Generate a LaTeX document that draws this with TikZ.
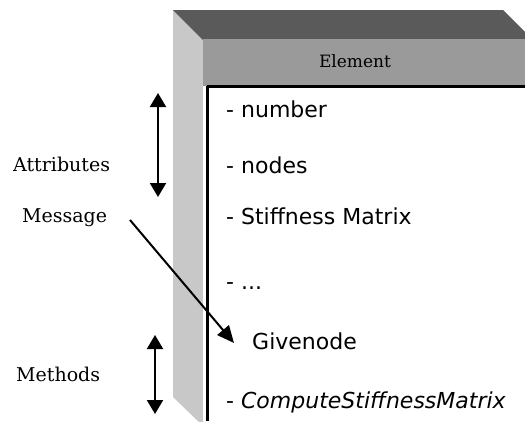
\documentclass[tikz,border=0pt]{standalone}
\usepackage{fontspec}
\setmainfont{DejaVu Serif}
\newfontfamily\itemfont{DejaVu Sans}
\usetikzlibrary{arrows.meta}
\definecolor{topgray}{HTML}{5A5A5A}
\definecolor{headgray}{HTML}{9A9A9A}
\definecolor{sidegray}{HTML}{C8C8C8}
\tikzset{
  label/.style={font=\fontsize{19}{22}\selectfont, inner sep=0pt, anchor=base west},
  member/.style={font=\itemfont\fontsize{22}{26}\selectfont, inner sep=0pt, anchor=base west},
  twoway/.style={line width=2pt, {Triangle[length=14pt,width=16pt]}-{Triangle[length=14pt,width=16pt]}},
  oneway/.style={line width=2pt, -{Triangle[length=17pt,width=15pt]}}
}
\begin{document}
\begin{tikzpicture}[x=1pt,y=-1pt]
\useasboundingbox (0,0) rectangle (525,421);
\clip (0,0) rectangle (525,421);
% box: side face, top face, header band and body
\fill[sidegray] (173,10) -- (203,40) -- (203,426) -- (173,397) -- cycle;
\fill[topgray] (173,10) -- (503,10) -- (533,40) -- (203,40) -- cycle;
\fill[headgray] (203,39) rectangle (530,86);
\fill[white] (203,86) rectangle (530,421);
\draw[line width=2.4pt] (207,86.5) -- (530,86.5);
\draw[line width=2.4pt] (207.5,86) -- (207.5,421);
% class name and members
\node[font=\fontsize{17}{20}\selectfont, inner sep=0pt, anchor=base] (title) at (355,67) {Element};
\node[member] (m1) at (226,117) {- number};
\node[member] (m2) at (226,173) {- nodes};
\node[member] (m3) at (226,224) {- Stiffness Matrix};
\node[member] (m4) at (226,289) {- ...};
\node[member] (m5) at (252,349) {Givenode};
\node[member] (m6) at (226,408) {- \textit{ComputeStiffnessMatrix}};
% side labels
\node[label] (attr) at (13,171) {Attributes};
\node[label] (msg) at (22,222) {Message};
\node[label] (meth) at (16,381) {Methods};
% arrows
\coordinate (a1) at (158,93);
\coordinate (a2) at (158,197);
\coordinate (b1) at (155,335);
\coordinate (b2) at (155,414);
\coordinate (c1) at (130,220);
\coordinate (c2) at (234,343);
\draw[twoway] (a1) -- (a2);
\draw[twoway] (b1) -- (b2);
\draw[oneway] (c1) -- (c2);
\end{tikzpicture}
\end{document}
